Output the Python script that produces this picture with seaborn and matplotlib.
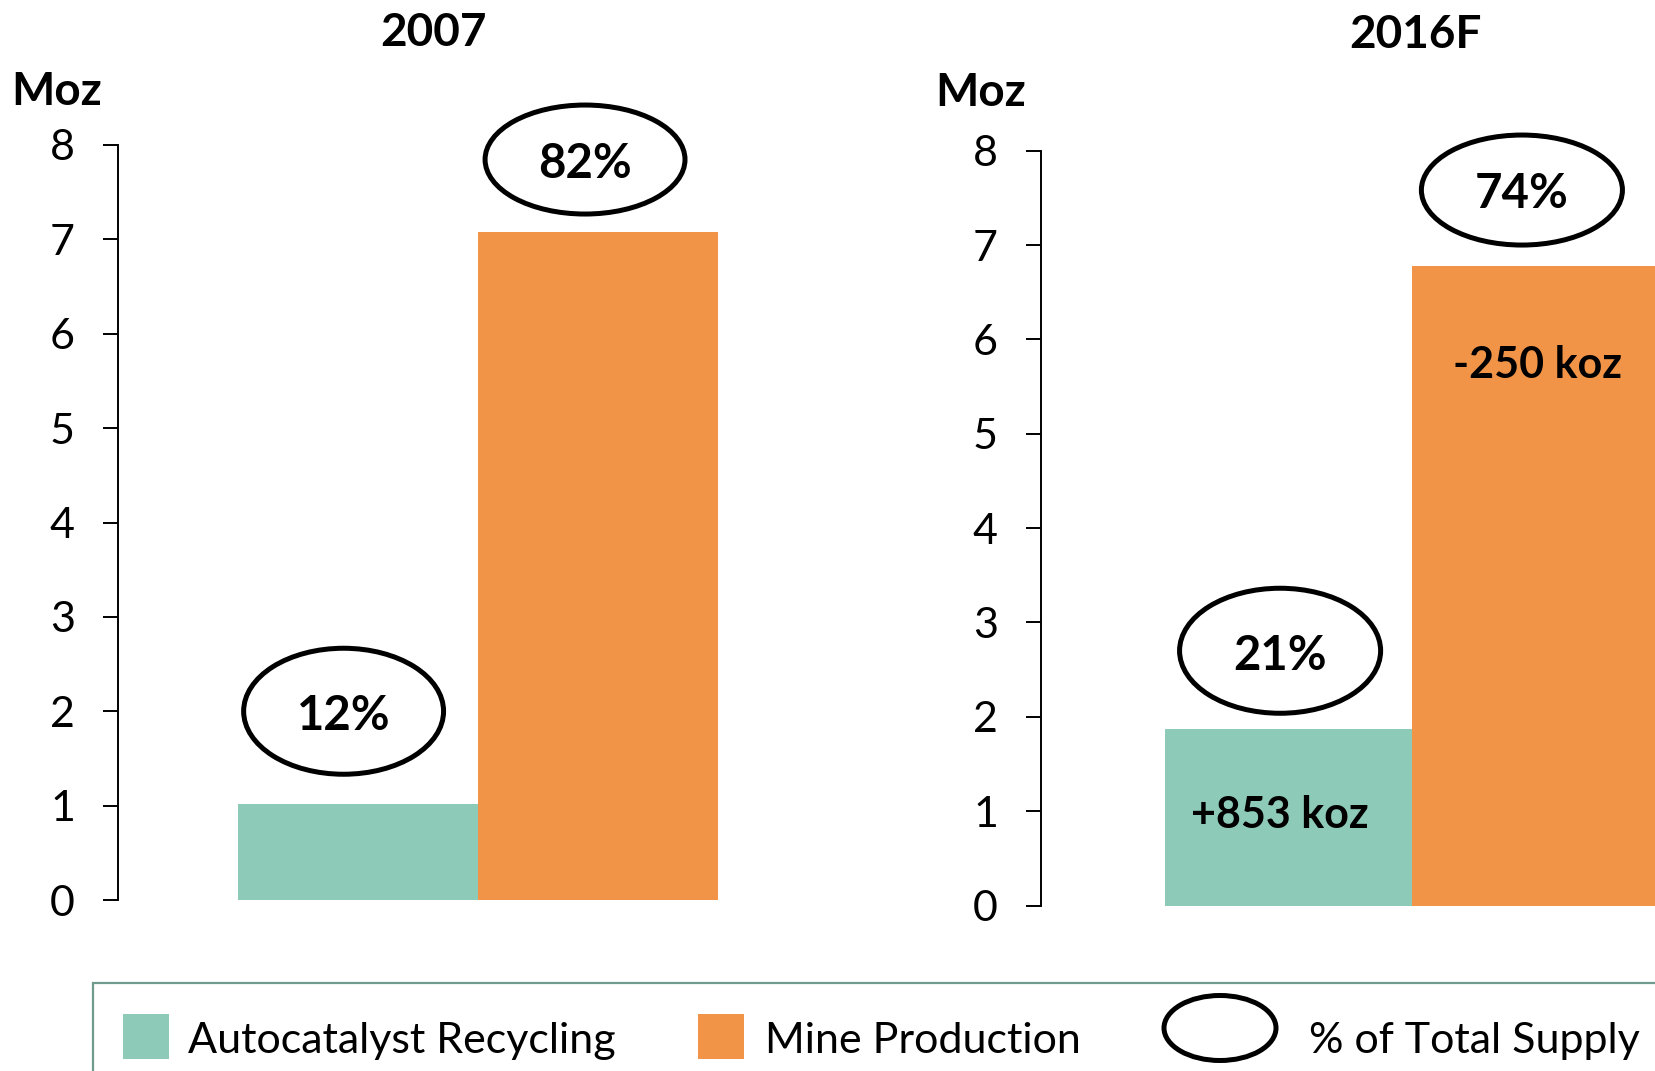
import pandas as pd
import matplotlib.pyplot as plt
import seaborn as sns
from matplotlib.patches import Ellipse, Rectangle

# Platinum supply by source (Moz)
sources = ['Autocatalyst Recycling', 'Mine Production']
colors = ['#8DCBB8', '#F29448']
years = ['2007', '2016F']
moz_2007 = [1.02, 7.08]
moz_2016 = [1.87, 6.78]
share_2007 = ['12%', '82%']
share_2016 = ['21%', '74%']
change_2016 = ['+853 koz', '-250 koz']

sns.set_theme(style='white')
plt.rcParams['font.family'] = ['Lato', 'DejaVu Sans']
plt.rcParams['text.color'] = 'black'

W, H = 1655, 1071
fig = plt.figure(figsize=(W / 100, H / 100), dpi=100)


def fx(x):
    return x / W


def fy(y):
    return 1 - y / H


def px_box(x0, y0, x1, y1):
    return [fx(x0), fy(y1), (x1 - x0) / W, (y1 - y0) / H]


ax1 = fig.add_axes(px_box(118, 145, 838, 900))
ax2 = fig.add_axes(px_box(1041, 150.7, 1782, 905.5))


def draw_panel(ax, values):
    df = pd.DataFrame({'source': sources, 'moz': values})
    sns.barplot(data=df, x='source', y='moz', hue='source', palette=colors,
                width=1.0, saturation=1, linewidth=0, legend=False, ax=ax)
    ax.set_xlim(-1, 2)
    ax.set_ylim(0, 8)
    ax.set_yticks(range(9))
    ax.set_xticks([])
    ax.set_xlabel('')
    ax.set_ylabel('')
    for side in ['top', 'right', 'bottom']:
        ax.spines[side].set_visible(False)
    ax.spines['left'].set_color('black')
    ax.spines['left'].set_linewidth(1.4)
    ax.tick_params(axis='y', left=True, length=11, width=1.4, pad=20,
                   labelsize=31, color='black', labelcolor='black')
    ax.patch.set_alpha(0)


def share_label(ax, text, x, y_center, w, h, y_text):
    ax.add_patch(Ellipse((x, y_center), w, h, fill=False, ec='black',
                         lw=3.6, clip_on=False))
    ax.text(x, y_text, text, ha='center', va='baseline', fontsize=34,
            fontweight='bold', color='black', clip_on=False)


draw_panel(ax1, moz_2007)
draw_panel(ax2, moz_2016)

# ellipse call-outs with share of total supply
share_label(ax1, share_2007[0], -0.06, 2.00, 0.833, 1.335, 1.80)
share_label(ax1, share_2007[1], 0.946, 7.846, 0.833, 1.155, 7.65)
share_label(ax2, share_2016[0], -0.032, 2.70, 0.814, 1.325, 2.50)
share_label(ax2, share_2016[1], 0.947, 7.583, 0.814, 1.166, 7.39)

# change vs 2007 inside the 2016F bars
ax2.text(-0.032, 0.82, change_2016[0], ha='center', va='baseline',
         fontsize=31, fontweight='bold', color='black')
ax2.text(1.012, 5.59, change_2016[1], ha='center', va='baseline',
         fontsize=31, fontweight='bold', color='black', clip_on=False)

# titles and unit labels
fig.text(fx(433), fy(46), years[0], ha='center', va='baseline',
         fontsize=33, fontweight='bold')
fig.text(fx(1415), fy(48), years[1], ha='center', va='baseline',
         fontsize=33, fontweight='bold')
fig.text(fx(11), fy(105), 'Moz', ha='left', va='baseline',
         fontsize=33, fontweight='bold')
fig.text(fx(935), fy(106), 'Moz', ha='left', va='baseline',
         fontsize=33, fontweight='bold')

# legend box, runs off the bottom/right edge like the original slide
fig.patches.append(Rectangle((fx(93), fy(1120)), fx(1750 - 93), (1120 - 983) / H,
                             transform=fig.transFigure, fill=False,
                             ec='#6E9B8D', lw=1.6))
fig.patches.append(Rectangle((fx(123), fy(1059)), 46 / W, 45 / H,
                             transform=fig.transFigure, fc=colors[0], lw=0))
fig.text(fx(188), fy(1053), sources[0], va='baseline', fontsize=31)
fig.patches.append(Rectangle((fx(698), fy(1059)), 46 / W, 45 / H,
                             transform=fig.transFigure, fc=colors[1], lw=0))
fig.text(fx(765), fy(1053), sources[1], va='baseline', fontsize=31)
fig.patches.append(Ellipse((fx(1220), fy(1028)), 112 / W, 65 / H,
                           transform=fig.transFigure, fill=False,
                           ec='black', lw=3.6))
fig.text(fx(1309), fy(1053), '% of Total Supply', va='baseline', fontsize=31)

fig.savefig('out.png', dpi=100)
